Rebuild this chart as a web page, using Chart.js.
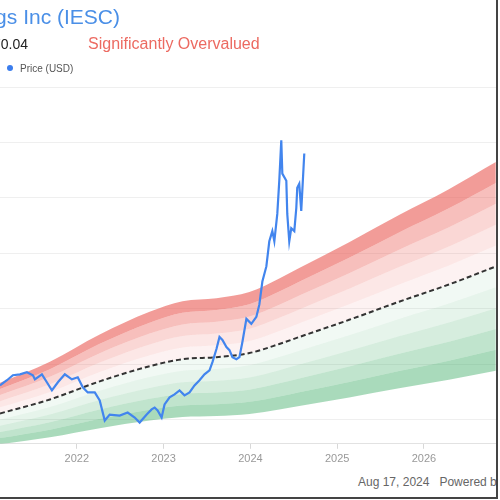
<!DOCTYPE html>
<html>
<head>
<meta charset="utf-8">
<script src="https://cdn.jsdelivr.net/npm/chart.js@4/dist/chart.umd.min.js"></script>
<style>
  body { margin: 0; background: #fff; }
  #frame { position: absolute; left: 0; top: 0; width: 496px; height: 497px; overflow: hidden;
    border-right: 2px solid #444; border-bottom: 2px solid #444; font-family: "Liberation Sans", Arial, sans-serif; }
  #chartBox { position: absolute; left: 0; top: 0; width: 496px; height: 470px; }
  .title { position: absolute; right: 376px; top: 5px; white-space: nowrap; color: #4a8fe7; font-size: 21px; }
  .price { position: absolute; right: 468px; top: 36px; white-space: nowrap; color: #222; font-size: 14px; }
  .verdict { position: absolute; left: 88px; top: 35px; white-space: nowrap; color: #ec6a61; font-size: 16px; }
  .legend { position: absolute; left: 7px; top: 63px; white-space: nowrap; color: #555; font-size: 10px; }
  .legend i { display: inline-block; width: 6px; height: 6px; border-radius: 3px; background: #3b7ded; margin-right: 7px; vertical-align: 1px; }
  .footer { position: absolute; left: 358px; top: 475px; white-space: nowrap; color: #666; font-size: 12px; }
</style>
</head>
<body>
<div id="frame">
  <div id="chartBox"><canvas id="gfChart"></canvas></div>
  <div class="title">IES Holdings Inc (IESC)</div>
  <div class="price">$170.04</div>
  <div class="verdict">Significantly Overvalued</div>
  <div class="legend"><i></i>Price (USD)</div>
  <div class="footer">Aug 17, 2024 &nbsp; Powered by GuruFocus.com</div>
</div>
<script>
// price (USD), dates as decimal years
const priceDates = [2021.115, 2021.195, 2021.264, 2021.345, 2021.425, 2021.494, 2021.517, 2021.598, 2021.655, 2021.713,
  2021.782, 2021.862, 2021.943, 2022.011, 2022.069, 2022.126, 2022.207, 2022.264, 2022.322, 2022.379,
  2022.494, 2022.586, 2022.667, 2022.724, 2022.805, 2022.862, 2022.897, 2022.931, 2022.977, 2023.011,
  2023.069, 2023.126, 2023.184, 2023.241, 2023.299, 2023.356, 2023.414, 2023.471, 2023.529, 2023.563,
  2023.609, 2023.644, 2023.678, 2023.724, 2023.759, 2023.793, 2023.839, 2023.874, 2023.908, 2023.954,
  2024.011, 2024.069, 2024.103, 2024.138, 2024.184, 2024.218, 2024.253, 2024.276, 2024.310, 2024.333,
  2024.356, 2024.368, 2024.414, 2024.425, 2024.448, 2024.471, 2024.506, 2024.529, 2024.540, 2024.563,
  2024.586, 2024.621]
const priceValues = [48.5, 51.3, 54.0, 54.5, 55.6, 54.0, 51.8, 54.5, 50.2, 45.8,
  50.2, 54.5, 51.8, 52.9, 47.5, 44.7, 44.7, 40.4, 29.5, 32.7,
  32.2, 33.8, 31.1, 28.4, 32.7, 35.5, 36.5, 34.9, 31.1, 38.2,
  42.0, 43.6, 45.8, 43.1, 44.7, 48.5, 51.3, 54.5, 56.7, 61.1,
  68.2, 74.7, 73.1, 69.3, 67.6, 63.8, 62.7, 63.8, 72.0, 84.5,
  81.8, 85.6, 92.2, 104.7, 112.9, 126.5, 132.0, 126.5, 141.3, 159.3,
  181.1, 163.1, 159.3, 141.3, 126.5, 133.6, 132.0, 144.5, 155.5, 157.6,
  142.9, 174.0]

// GF Value (median line)
const gfDates = [2021.115, 2021.690, 2022.264, 2022.839, 2023.218, 2023.609, 2023.989, 2024.333, 2024.563,
  2025.138, 2025.713, 2026.287, 2026.828]
const gfValues = [33.3, 40.9, 50.7, 58.9, 62.7, 63.8, 66.0, 70.9, 74.7, 84.0, 93.8, 103.1, 112.9]

// valuation bands, as multiples of GF Value
const overBands = [1.1, 1.2, 1.3, 1.4, 1.5]
const underBands = [0.9, 0.8, 0.7, 0.6, 0.5]
const overAlpha = [0.08, 0.15, 0.25, 0.4, 0.62]
const underAlpha = [0.07, 0.13, 0.21, 0.32, 0.44]

const yearTicks = [2022, 2023, 2024, 2025, 2026]
const gridValues = [30, 60, 90, 120, 150, 180, 210]

const toPoints = (xs, ys) => xs.map((x, i) => ({ x: x, y: ys[i] }))

const datasets = []
datasets.push({
  label: 'Price (USD)', data: toPoints(priceDates, priceValues),
  borderColor: '#4285ee', borderWidth: 2.2, pointRadius: 0, tension: 0, fill: false, order: 0
})
datasets.push({
  label: 'GF Value', data: toPoints(gfDates, gfValues),
  borderColor: '#333', borderWidth: 2, borderDash: [5, 3], pointRadius: 0,
  cubicInterpolationMode: 'monotone', fill: false, order: 1
})
overBands.forEach((f, i) => {
  datasets.push({
    label: 'over' + f, data: toPoints(gfDates, gfValues.map(v => v * f)),
    borderWidth: 0, pointRadius: 0, cubicInterpolationMode: 'monotone',
    fill: datasets.length - 1, backgroundColor: 'rgba(234,95,88,' + overAlpha[i] + ')', order: 2
  })
})
underBands.forEach((f, i) => {
  datasets.push({
    label: 'under' + f, data: toPoints(gfDates, gfValues.map(v => v * f)),
    borderWidth: 0, pointRadius: 0, cubicInterpolationMode: 'monotone',
    fill: i === 0 ? 1 : datasets.length - 1, backgroundColor: 'rgba(60,170,100,' + underAlpha[i] + ')', order: 2
  })
})

new Chart(document.getElementById('gfChart').getContext('2d'), {
  type: 'line',
  data: { datasets: datasets },
  options: {
    responsive: true,
    maintainAspectRatio: false,
    animation: false,
    layout: { padding: { top: 87, left: 0, right: 0, bottom: 0 } },
    plugins: { legend: { display: false }, tooltip: { enabled: false } },
    scales: {
      x: {
        type: 'linear', min: 2021.115, max: 2026.83,
        afterBuildTicks: s => { s.ticks = yearTicks.map(v => ({ value: v })) },
        grid: { drawOnChartArea: false, drawTicks: true, tickLength: 5, color: '#d8d8d8' },
        border: { color: '#e2e2e2' },
        ticks: { color: '#999', font: { size: 11, family: 'Liberation Sans' }, padding: 4, maxRotation: 0,
          callback: v => String(v) }
      },
      y: {
        min: 16.9, max: 210,
        afterBuildTicks: s => { s.ticks = gridValues.map(v => ({ value: v })) },
        grid: { color: '#efefef', drawTicks: false },
        border: { display: false },
        ticks: { display: false }
      }
    }
  }
})
</script>
</body>
</html>
